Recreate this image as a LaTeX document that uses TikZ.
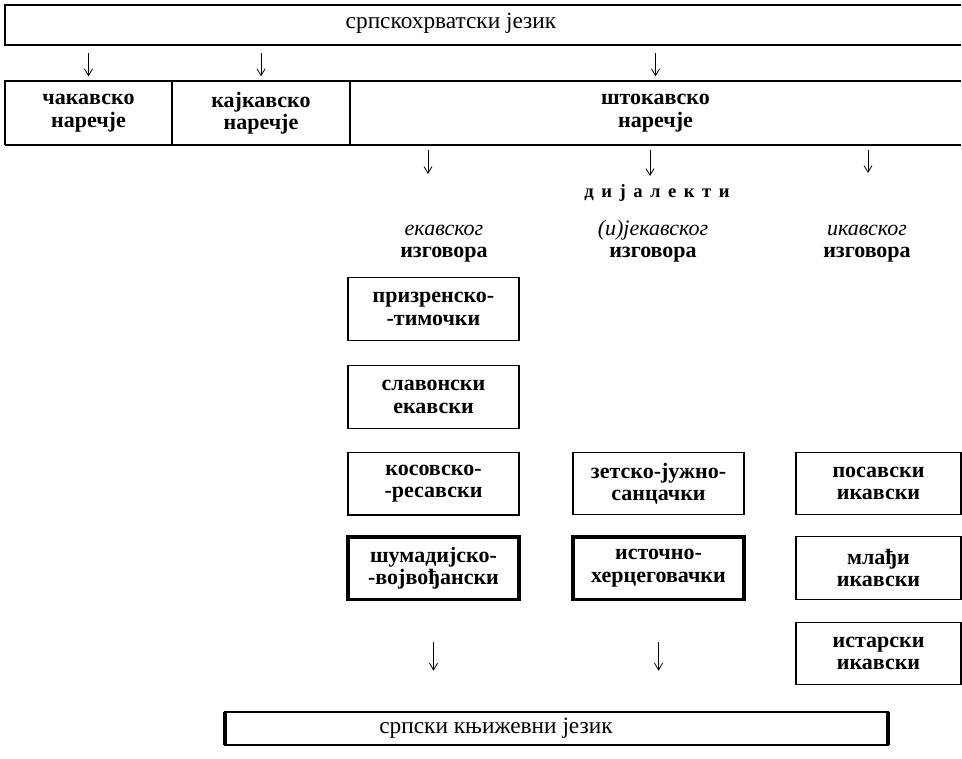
\documentclass[tikz,border=0pt]{standalone}
\usepackage{fontspec}
\setmainfont{Liberation Serif}[Script=Cyrillic, Language=Serbian]
\usepackage{tikz}
\usetikzlibrary{positioning, arrows.meta}

\newcommand{\boxfont}{\fontsize{16.5pt}{16.8pt}\selectfont\bfseries}
\newcommand{\barfont}{\fontsize{17.5pt}{18pt}\selectfont}

\begin{document}
\begin{tikzpicture}[x=0.75pt, y=-0.75pt,
      every node/.style={inner sep=0pt, outer sep=0pt, align=center},
      cell/.style={font=\boxfont, minimum height=48pt},
      dial/.style={draw, line width=0.8pt, font=\boxfont, minimum width=128.25pt, minimum height=47pt},
      heavy/.style={dial, line width=2.6pt},
      arr/.style={-{Straight Barb[length=5pt, width=6pt]}, line width=0.6pt},
      node distance=19pt]

      \useasboundingbox (0,0) rectangle (962,758);

      % Language
      \node[minimum width=717pt, minimum height=30pt] (srhr) at (483,25) {};
      \node[font=\barfont] (srhrtxt) at (451,23) {српскохрватски језик};
      \draw[line width=0.8pt] (srhr.north east) -- (srhr.north west) -- (srhr.south west) -- (srhr.south east);

      % Dialect groups
      \node[cell, minimum width=125.25pt] (cak) at (88.5,113) {чакавско\\наречје};
      \node[cell, minimum width=133.5pt] (kaj) at (261,113) {кајкавско\\наречје};
      \node[cell, minimum width=458.25pt] (shto) at (655.5,113) {штокавско\\наречје};
      \draw[line width=0.8pt] (shto.north east) -- (cak.north west) -- (cak.south west);
      \draw[line width=1.6pt] (cak.south west) -- (shto.south east);
      \draw[line width=0.8pt] (cak.north east) -- (cak.south east) (kaj.north east) -- (kaj.south east);

      \foreach \n in {cak, kaj, shto}
        \draw[arr, shorten <=6pt, shorten >=3.5pt] (srhr.south -| \n) -- (\n.north);

      % Pronunciations
      \node[font=\fontsize{14pt}{14pt}\selectfont\bfseries\addfontfeature{LetterSpace=40}] (dij) at (657,193) {дијалекти};
      \node[font=\boxfont] (ek) at (444,241) {\strut{\mdseries\itshape екавског}\\изговора};
      \node[font=\boxfont] (jek) at (653,241) {\strut{\mdseries\itshape (и)јекавског}\\изговора};
      \node[font=\boxfont] (ik) at (867,241) {\strut{\mdseries\itshape икавског}\\изговора};

      \coordinate (ektip) at (428,174);
      \coordinate (jektip) at (650,176);
      \coordinate (iktip) at (868,173);
      \foreach \t in {ektip, jektip, iktip}
        \draw[arr, shorten <=4pt] (shto.south -| \t) -- (\t);

      % Dialects
      \node[dial] (priz) at (433.5,309) {призренско-\\-тимочки};
      \node[dial, below=of priz] (slav) {славонски\\екавски};
      \node[dial, below=18pt of slav] (kos) {косовско-\\-ресавски};
      \node[heavy, below=16.5pt of kos] (shum) {шумадијско-\\-војвођански};

      \node[dial] (zet) at (658.5,483.5) {зетско-јужно-\\санцачки};
      \node[heavy, below=16.5pt of zet] (ist) {источно-\\херцеговачки};

      \node[dial, minimum width=123.75pt] (pos) at (878.5,483.5) {посавски\\икавски};
      \node[dial, minimum width=123.75pt, below=16.5pt of pos] (mla) {млађи\\икавски};
      \node[dial, minimum width=123.75pt, below=17pt of mla] (istr) {истарски\\икавски};

      % Standard language
      \node[minimum width=497.25pt, minimum height=24.75pt] (lit) at (556.5,728.5) {};
      \node[font=\barfont] (littxt) at (496,728) {српски књижевни језик};
      \draw[line width=1.2pt] (lit.north west) rectangle (lit.south east);
      \draw[line width=2.6pt] (lit.north west) -- (lit.south west) (lit.north east) -- (lit.south east);

      \foreach \n in {shum, ist}
        \draw[arr, shorten <=32pt, shorten >=31pt] (\n.south) -- (\n.south |- lit.north);
    \end{tikzpicture}
\end{document}
